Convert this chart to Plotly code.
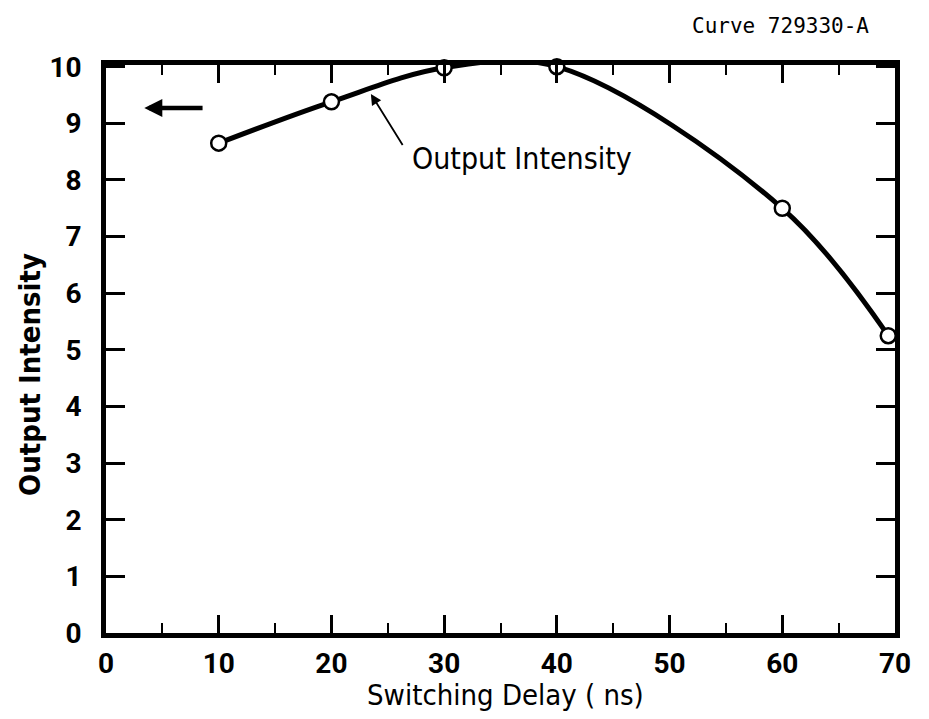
import plotly.graph_objects as go

delay_ns = [10, 20, 30, 40, 60, 69.4]
intensity = [8.65, 9.38, 9.98, 10.0, 7.5, 5.25]
x_ticks = [0, 10, 20, 30, 40, 50, 60, 70]
y_ticks = [0, 1, 2, 3, 4, 5, 6, 7, 8, 9, 10]

FONT = "DejaVu Sans Condensed, Liberation Sans Narrow, sans-serif"
TICKFONT = "Roboto, Lato, sans-serif"

fig = go.Figure()
fig.add_trace(go.Scatter(
    x=delay_ns, y=intensity, mode="lines+markers",
    line=dict(color="black", width=5, shape="spline", smoothing=1.0),
    marker=dict(symbol="circle", size=15, color="white", line=dict(color="black", width=2.5)),
    cliponaxis=False, showlegend=False,
))

fig.update_layout(
    width=929, height=719,
    margin=dict(l=98, r=42, t=57, b=94),
    paper_bgcolor="white", plot_bgcolor="white",
    font=dict(family=FONT, color="black"),
    xaxis=dict(
        range=[0, 70], tickvals=x_ticks, ticks="inside", ticklen=18, tickwidth=2.5,
        tickcolor="black", showline=True, linewidth=4.5, linecolor="black", mirror="ticks",
        showgrid=False, zeroline=False, ticklabelstandoff=2,
        tickfont=dict(size=28, family=TICKFONT, weight="bold"),
        minor=dict(dtick=5, tick0=0, ticks="inside", ticklen=10, tickwidth=2, tickcolor="black", showgrid=False),
    ),
    yaxis=dict(
        range=[0, 10.03], tickvals=y_ticks, ticks="inside", ticklen=19, tickwidth=2.5,
        tickcolor="black", showline=True, linewidth=4.5, linecolor="black", mirror="ticks",
        showgrid=False, zeroline=False, ticklabelstandoff=14,
        tickfont=dict(size=28, family=TICKFONT, weight="bold"),
    ),
)

# Axis titles
fig.add_annotation(x=0.506, y=-0.109, xref="paper", yref="paper", text="Switching Delay ( ns)",
                   showarrow=False, xanchor="center", yanchor="middle",
                   font=dict(size=29, family=FONT, color="black"))
fig.add_annotation(x=-0.097, y=0.455, xref="paper", yref="paper", text="Output Intensity",
                   showarrow=False, textangle=-90, xanchor="center", yanchor="middle",
                   font=dict(size=29, family=FONT, color="black", weight="bold"))

# Left-pointing arrow in upper-left
fig.add_annotation(x=3.4, y=9.27, ax=8.7, ay=9.27, xref="x", yref="y", axref="x", ayref="y",
                   text="", showarrow=True, arrowhead=2, arrowsize=0.8, arrowwidth=4.5, arrowcolor="black")
# Pointer from label to curve
fig.add_annotation(x=23.5, y=9.52, ax=26.4, ay=8.59, xref="x", yref="y", axref="x", ayref="y",
                   text="", showarrow=True, arrowhead=2, arrowsize=1.2, arrowwidth=1.8, arrowcolor="black")
fig.add_annotation(x=27.0, y=8.38, xref="x", yref="y", text="Output Intensity", showarrow=False,
                   xanchor="left", yanchor="middle", font=dict(size=30, family=FONT, color="black"))
fig.add_annotation(x=0.970, y=1.069, xref="paper", yref="paper", text="Curve 729330-A", showarrow=False,
                   xanchor="right", yanchor="middle",
                   font=dict(size=21, family="DejaVu Sans Mono, Liberation Mono, monospace", color="black"))

fig.write_html("out.html")
